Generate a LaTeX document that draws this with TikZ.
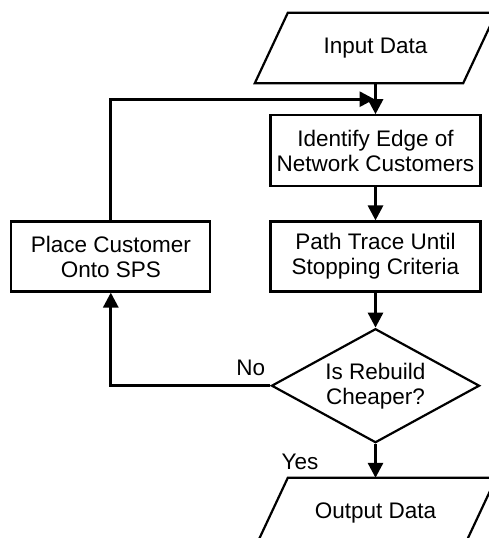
\documentclass[tikz,border=0pt]{standalone}
\usepackage{fontspec}
\setmainfont{Liberation Sans}
\usetikzlibrary{arrows,calc,arrows.meta,positioning,shapes.geometric}

\tikzset{
    procbox/.style={draw, line width=2.2pt, minimum width=210pt, minimum height=71pt, align=center, inner sep=0pt},
    databox/.style={minimum width=208pt, minimum height=70pt, align=center, inner sep=0pt},
    decidebox/.style={draw, line width=2.2pt, diamond, aspect=1.8, minimum width=208pt, minimum height=114pt, align=center, inner sep=0pt},
    flow/.style={line width=3pt, -{Triangle[length=15pt,width=15pt]}},
    tag/.style={inner sep=0pt}
}
% slanted outline round a data node
\newcommand{\slantbox}[1]{%
    \draw[line width=2.2pt] ([xshift=-16.5pt]#1.south west) -- ([xshift=16.5pt]#1.north west)
        -- ([xshift=16.5pt]#1.north east) -- ([xshift=-16.5pt]#1.south east) -- cycle;}

\begin{document}
\begin{tikzpicture}[
            x=1pt, y=1pt,
            node distance=33pt and 58pt
        ]
        \fontsize{22.5}{25}\selectfont
        \useasboundingbox (0,0) rectangle (489,-538);
        \node[databox] (input) at (375.5,-48) {Input Data};
        \node[procbox, below=31pt of input] (identify) {Identify Edge of\\Network Customers};
        \node[procbox, below=of identify, minimum height=70pt] (pathtrace) {Path Trace Until\\Stopping Criteria};
        \node[decidebox, below=35pt of pathtrace] (rebuild) {Is Rebuild\\Cheaper?};
        \node[databox, below=34pt of rebuild] (output) {Output Data};
        \node[procbox, left=of pathtrace, minimum width=199pt, minimum height=70pt] (place) {Place Customer\\Onto SPS};
        \coordinate[below=16pt of input.south] (merge);
        \slantbox{input}
        \slantbox{output}

        \draw[flow] (input) -- (identify);
        \draw[flow] (identify) -- (pathtrace);
        \draw[flow] (pathtrace) -- (rebuild);
        \draw[flow] (rebuild) -- (output);
        \draw[flow] (rebuild.west) -| (place.south);
        \draw[flow] (place.north) |- ([xshift=-1pt]merge);

        \node[tag, above left=10pt and 5pt of rebuild.west] (no) {No};
        \node[tag, below left=10pt and 57pt of rebuild.south] (yes) {Yes};
    \end{tikzpicture}
\end{document}
